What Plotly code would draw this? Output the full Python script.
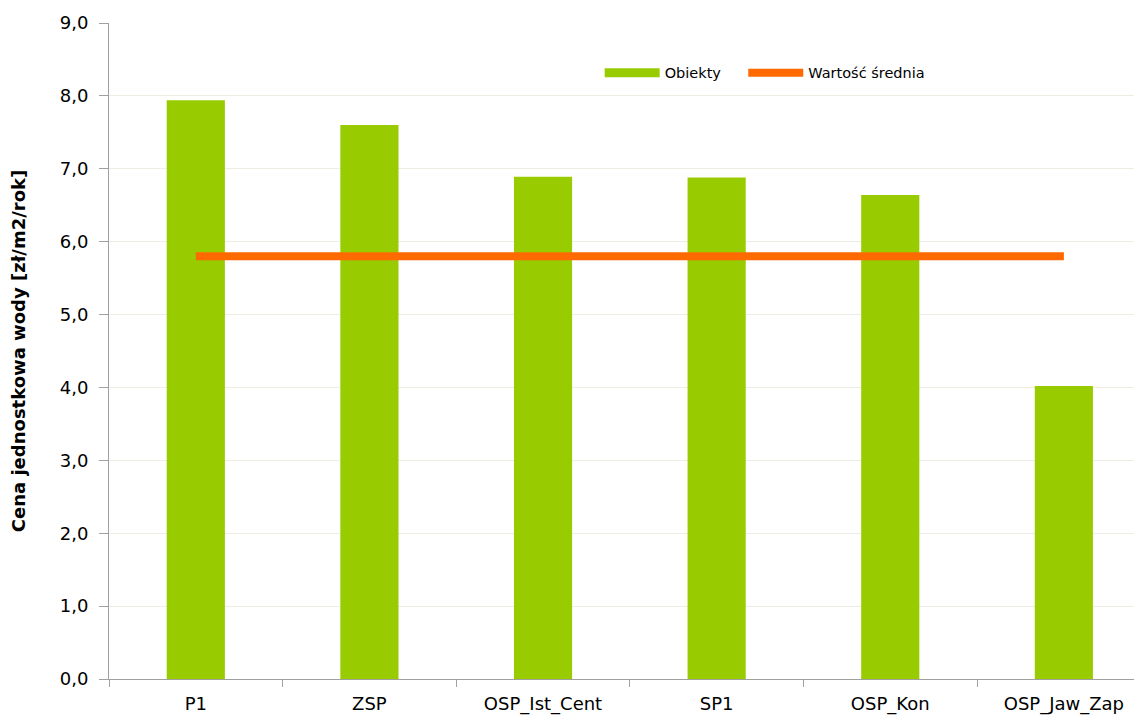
import plotly.graph_objects as go

categories = ["P1", "ZSP", "OSP_Ist_Cent", "SP1", "OSP_Kon", "OSP_Jaw_Zap"]
values = [7.94, 7.60, 6.89, 6.88, 6.64, 4.02]
mean_value = [5.8] * len(categories)
y_ticks = [0, 1, 2, 3, 4, 5, 6, 7, 8, 9]

GREEN = "#99CC00"
ORANGE = "#FF6A00"

fig = go.Figure()
fig.add_trace(go.Bar(
    x=categories, y=values, name="Obiekty",
    marker=dict(color=GREEN, line=dict(width=0)),
    width=0.335, showlegend=False,
))
# legend entry for the bars, drawn as a wide green band like the original
fig.add_trace(go.Scatter(
    x=[None], y=[None], name="Obiekty", mode="lines",
    line=dict(color=GREEN, width=9), legend="legend",
))
fig.add_trace(go.Scatter(
    x=categories, y=mean_value, name="Wartość średnia", mode="lines",
    line=dict(color=ORANGE, width=8), legend="legend2",
))

fig.update_layout(
    width=1134, height=710,
    margin=dict(l=101, r=0, t=15, b=39),
    paper_bgcolor="white", plot_bgcolor="white",
    separators=", ",
    font=dict(family="DejaVu Sans, Verdana, sans-serif", size=18, color="#000000"),
    showlegend=True,
    legend=dict(
        orientation="h", x=0.475, y=0.924, xanchor="left", yanchor="middle",
        font=dict(size=14.5), bgcolor="rgba(0,0,0,0)", itemwidth=55,
    ),
    legend2=dict(
        orientation="h", x=0.614, y=0.924, xanchor="left", yanchor="middle",
        font=dict(size=14.5), bgcolor="rgba(0,0,0,0)", itemwidth=55,
    ),
)
fig.update_xaxes(
    range=[-0.5, 5.45], showgrid=False,
    showline=True, linecolor="#A0A0A0", linewidth=1,
    ticks="outside", tickson="boundaries", ticklen=7, tickcolor="#A0A0A0",
    ticklabelstandoff=8,
    tickfont=dict(size=18),
)
fig.update_yaxes(
    range=[0, 9], tickvals=y_ticks, tickformat=".1f",
    showgrid=True, gridcolor="#EDEDE3", gridwidth=1,
    showline=True, linecolor="#A0A0A0", linewidth=1,
    ticks="outside", ticklen=9, tickcolor="#A0A0A0", ticklabelstandoff=7,
    tickfont=dict(size=18), zeroline=False,
    title=dict(text="<b>Cena jednostkowa wody [zł/m2/rok]</b>", font=dict(size=18), standoff=29),
)

fig.write_html("out.html")
